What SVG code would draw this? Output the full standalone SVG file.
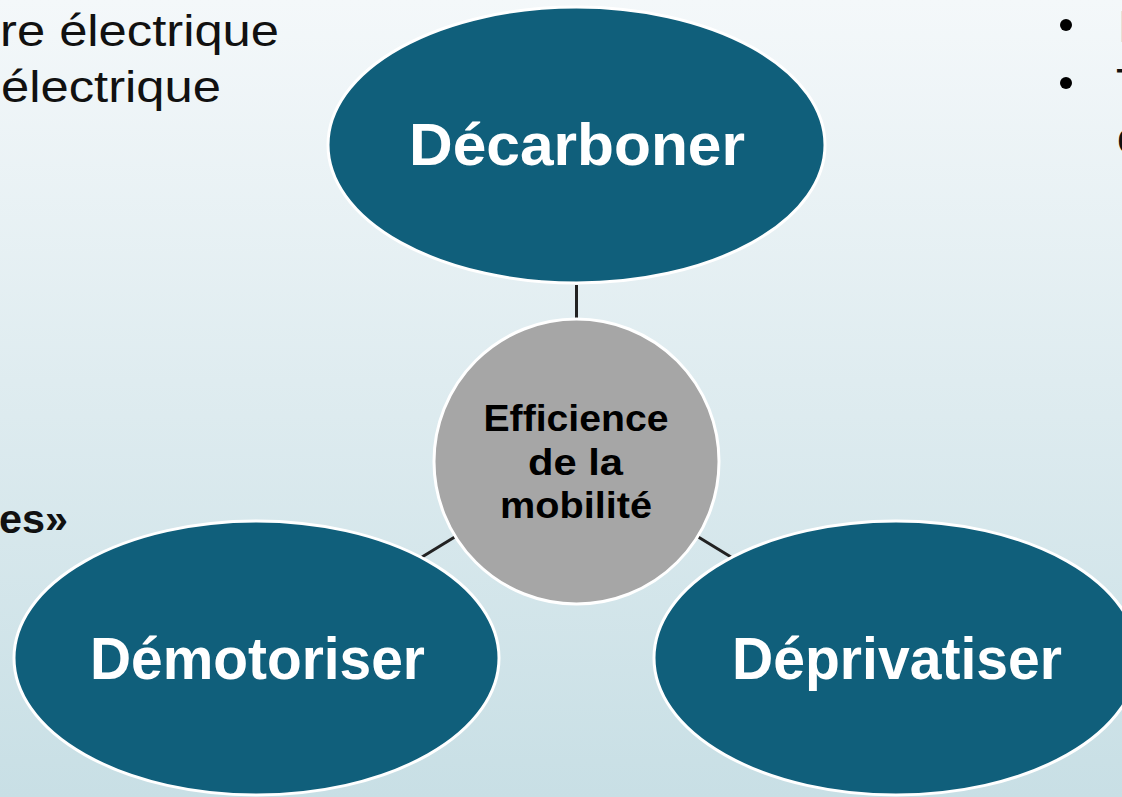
<svg xmlns="http://www.w3.org/2000/svg" width="1122" height="797" viewBox="0 0 1122 797">
  <defs>
    <linearGradient id="bg" x1="0" y1="0" x2="0" y2="1">
      <stop offset="0" stop-color="#f4f8fa"/>
      <stop offset="1" stop-color="#c8dfe5"/>
    </linearGradient>
    <style>
      .outer { fill: #105f7b; stroke: #ffffff; stroke-width: 3; }
      .hub { fill: #a6a6a6; stroke: #ffffff; stroke-width: 3; }
      .outer-label { font-family: "Liberation Sans", Arial, sans-serif; font-weight: bold; font-size: 60px; fill: #ffffff; text-anchor: middle; }
      .hub-label { font-family: "Liberation Sans", Arial, sans-serif; font-weight: bold; font-size: 36px; fill: #000000; text-anchor: middle; }
      .conn { stroke: #222222; stroke-width: 3; fill: none; }
      .side { font-family: "Liberation Sans", Arial, sans-serif; font-size: 44px; fill: #111111; }
      .side-bold { font-family: "Liberation Sans", Arial, sans-serif; font-weight: bold; font-size: 40px; fill: #111111; }
    </style>
  </defs>
  <rect x="0" y="0" width="1122" height="797" fill="url(#bg)"/>

  <g id="background-text">
    <text class="side" x="0" y="46" textLength="279" lengthAdjust="spacingAndGlyphs">re électrique</text>
    <text class="side" x="1" y="102" textLength="220" lengthAdjust="spacingAndGlyphs">électrique</text>
    <text class="side-bold" x="-1" y="533" textLength="69" lengthAdjust="spacingAndGlyphs">es»</text>
    <circle cx="1066" cy="25" r="6" fill="#000"/>
    <circle cx="1066" cy="83" r="6" fill="#000"/>
    <text class="side" x="1118" y="42" style="fill:#c4c8ca">L</text>
    <text class="side" x="1116" y="100">T</text>
    <text class="side" x="1117" y="153">c</text>
  </g>

  <g id="connectors">
    <line class="conn" x1="576.5" y1="285" x2="576.5" y2="320"/>
    <line class="conn" x1="422" y1="557" x2="458" y2="535"/>
    <line class="conn" x1="695" y1="535" x2="731" y2="557"/>
  </g>

  <g id="node-decarboner">
    <ellipse class="outer" cx="576.5" cy="145" rx="248.5" ry="138"/>
    <text class="outer-label" x="577" y="165" textLength="336" lengthAdjust="spacingAndGlyphs">Décarboner</text>
  </g>

  <g id="node-demotoriser">
    <ellipse class="outer" cx="256.5" cy="658" rx="242.5" ry="137"/>
    <text class="outer-label" x="257.5" y="679" textLength="335" lengthAdjust="spacingAndGlyphs">Démotoriser</text>
  </g>

  <g id="node-deprivatiser">
    <ellipse class="outer" cx="896" cy="658" rx="242" ry="137"/>
    <text class="outer-label" x="897" y="679" textLength="330" lengthAdjust="spacingAndGlyphs">Déprivatiser</text>
  </g>

  <g id="node-efficience">
    <circle class="hub" cx="576.5" cy="461.5" r="142.5"/>
    <text class="hub-label" x="576" y="431" textLength="185" lengthAdjust="spacingAndGlyphs">Efficience</text>
    <text class="hub-label" x="575.5" y="475" textLength="95" lengthAdjust="spacingAndGlyphs">de la</text>
    <text class="hub-label" x="576" y="518" textLength="152" lengthAdjust="spacingAndGlyphs">mobilité</text>
  </g>
</svg>
